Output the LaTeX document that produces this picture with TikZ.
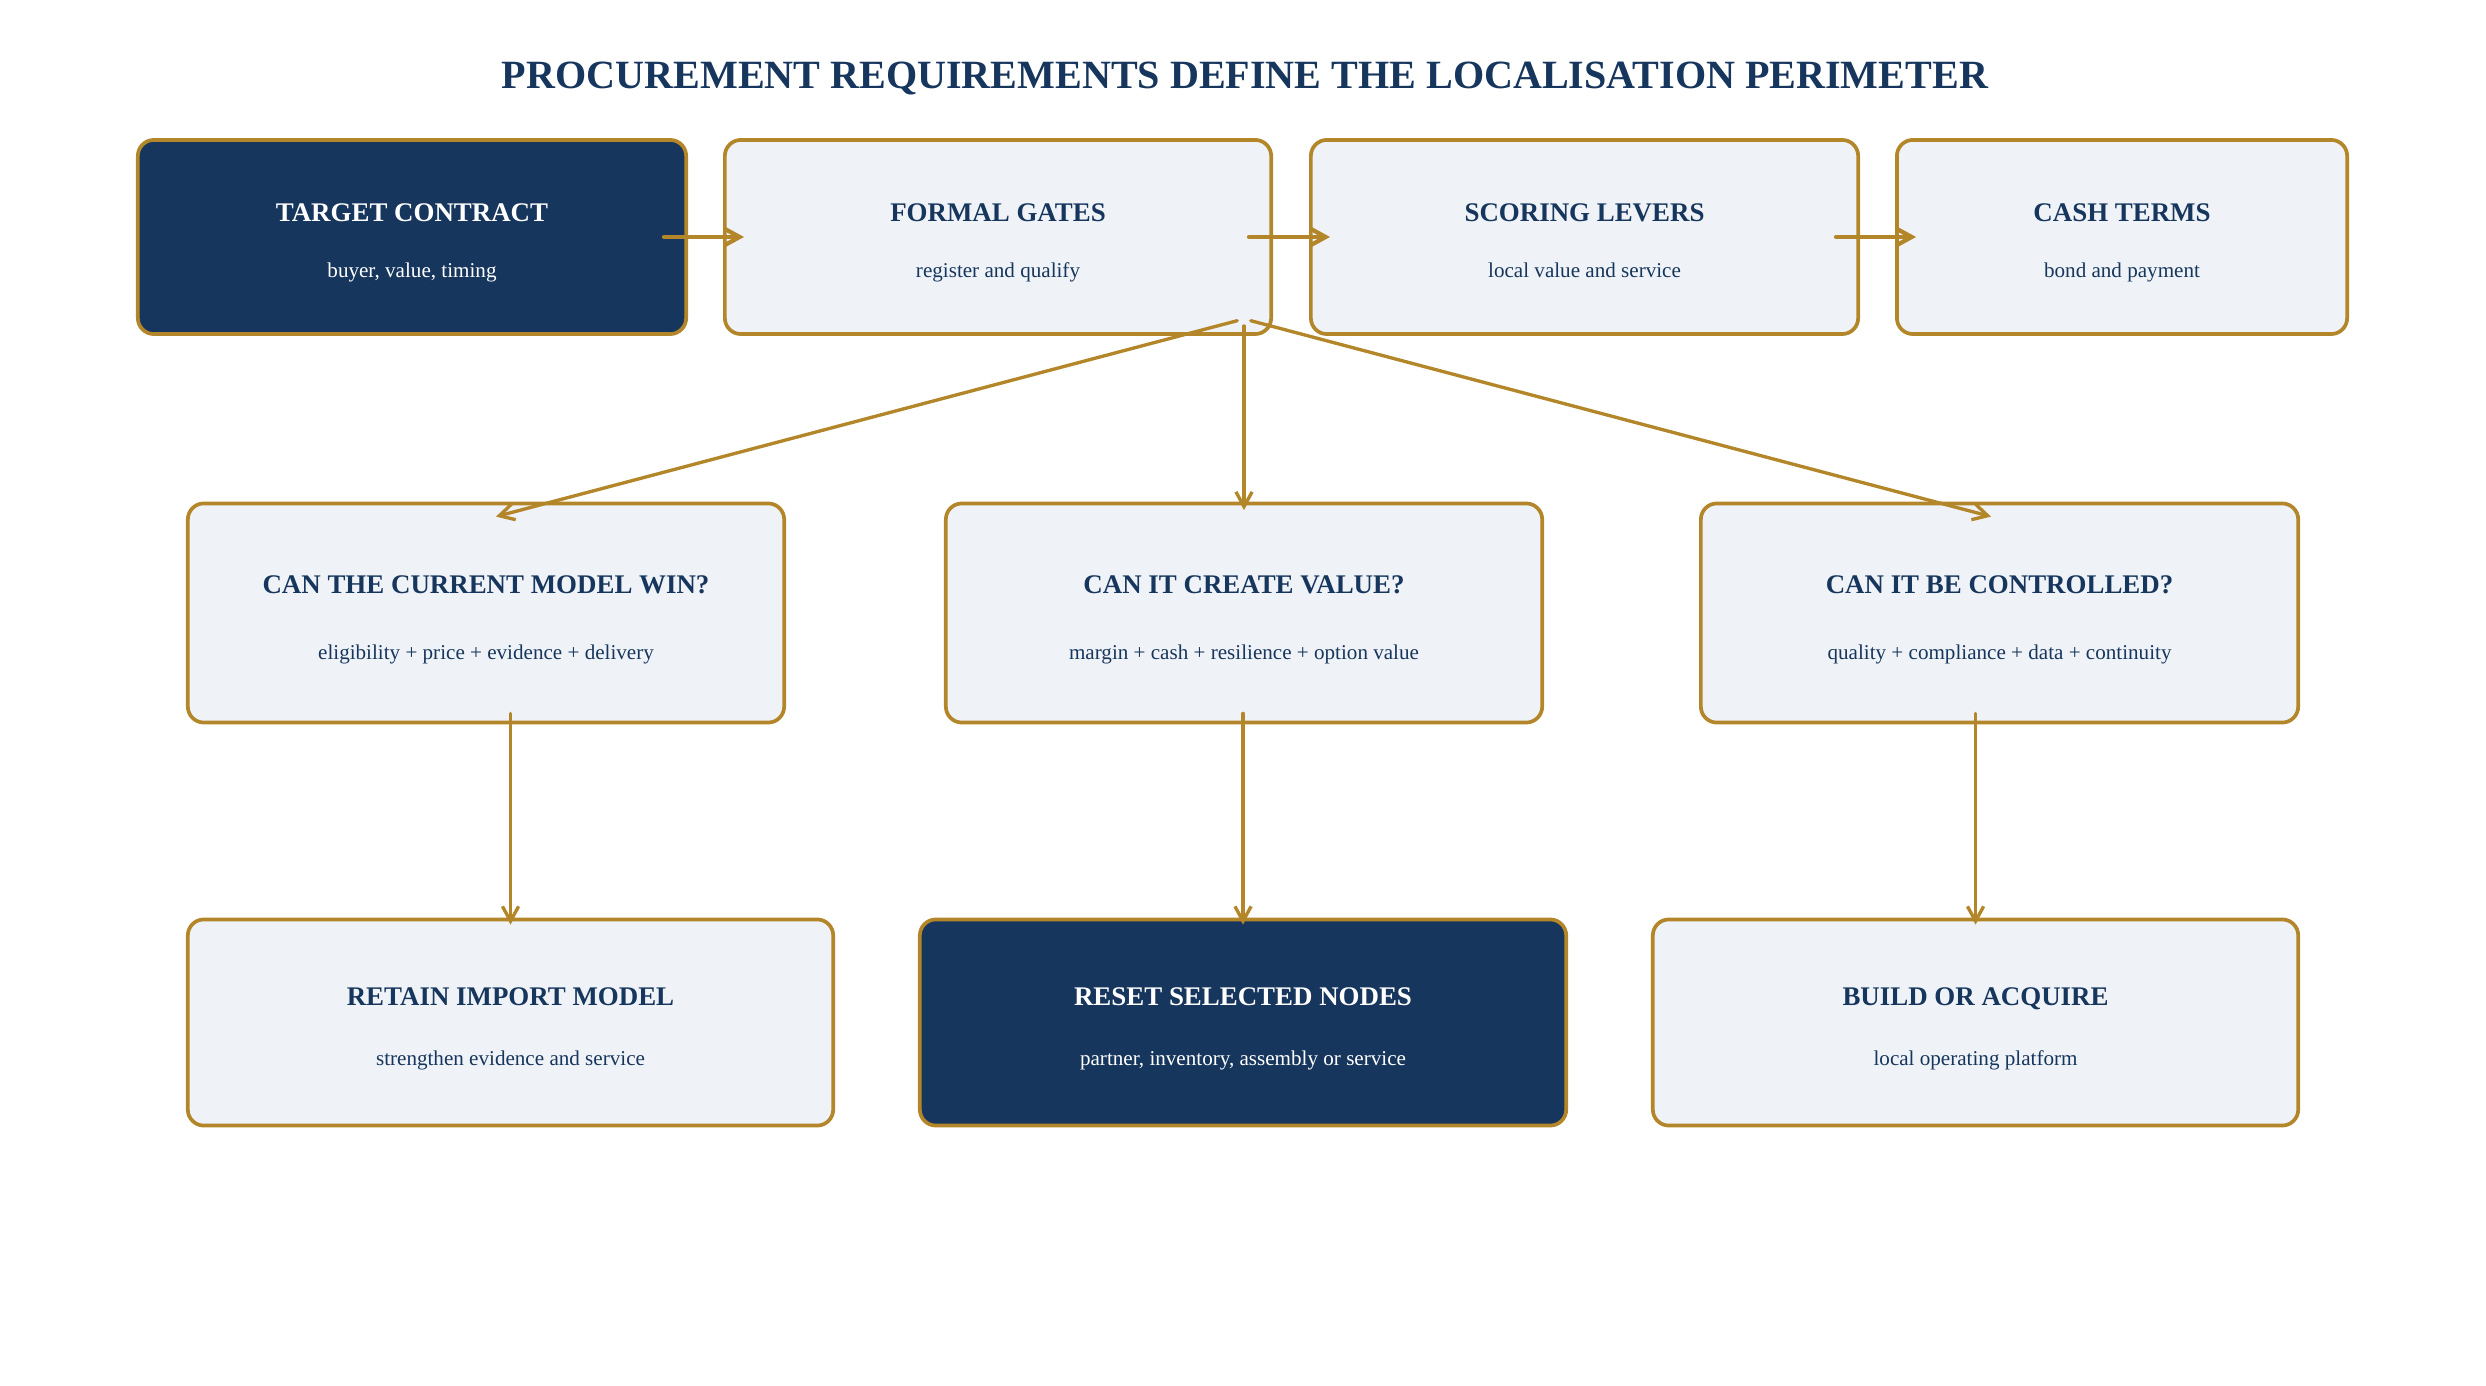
\documentclass[tikz,border=0pt]{standalone}
\usepackage{fontspec}
\setmainfont{Liberation Serif}
\usetikzlibrary{arrows.meta}
\usetikzlibrary{calc}
\definecolor{navy}{HTML}{17365D}
\definecolor{gold}{HTML}{B3862A}
\definecolor{paper}{HTML}{EFF3F7}
\tikzstyle{every path}=[line cap=round,line join=round]
\tikzstyle{box}=[draw=gold,line width=1.05pt,rounded corners=0.16cm,fill=paper,inner sep=0pt]
\tikzstyle{darkbox}=[box,fill=navy]
\tikzstyle{head}=[font=\bfseries\fontsize{7.65}{9}\selectfont,text=navy,anchor=base,inner sep=0pt]
\tikzstyle{sub}=[font=\fontsize{6}{7}\selectfont,text=navy,anchor=base,inner sep=0pt]
\tikzstyle{flow}=[draw=gold,line width=0.95pt,-{Straight Barb[length=4.2pt,width=4.6pt]}]
\tikzstyle{chain}=[flow,line width=1.2pt]

\begin{document}
\begin{tikzpicture}[x=0.01cm,y=-0.01cm]
    % Canvas (pixel grid of the reference)
    \fill[white] (0,0) rectangle (2486,1386);
    \useasboundingbox (0,0) rectangle (2486,1386);

    % Title
    \node[head,font=\bfseries\fontsize{11.4}{13}\selectfont] (title) at (1245,89)
        {PROCUREMENT REQUIREMENTS DEFINE THE LOCALISATION PERIMETER};

    % Row 1: contract and tender terms
    \node[darkbox,minimum width=5.48cm,minimum height=1.94cm] (contract) at (412,237) {};
    \node[box,minimum width=5.46cm,minimum height=1.94cm] (gates) at (998,237) {};
    \node[box,minimum width=5.47cm,minimum height=1.94cm] (levers) at (1584.5,237) {};
    \node[box,minimum width=4.50cm,minimum height=1.94cm] (cash) at (2122,237) {};

    \node[head,text=white] (contract-h) at ([yshift=0.15cm]contract.center) {TARGET CONTRACT};
    \node[sub,text=white] (contract-s) at ([yshift=-0.40cm]contract.center) {buyer, value, timing};
    \node[head] (gates-h) at ([yshift=0.15cm]gates.center) {FORMAL GATES};
    \node[sub] (gates-s) at ([yshift=-0.40cm]gates.center) {register and qualify};
    \node[head] (levers-h) at ([yshift=0.15cm]levers.center) {SCORING LEVERS};
    \node[sub] (levers-s) at ([yshift=-0.40cm]levers.center) {local value and service};
    \node[head] (cash-h) at ([yshift=0.15cm]cash.center) {CASH TERMS};
    \node[sub] (cash-s) at ([yshift=-0.40cm]cash.center) {bond and payment};

    % Row 2: the three tests
    \node[box,minimum width=5.96cm,minimum height=2.19cm] (win) at (486,613) {};
    \node[box,minimum width=5.96cm,minimum height=2.19cm] (value) at (1244,613) {};
    \node[box,minimum width=5.97cm,minimum height=2.19cm] (control) at (1999.5,613) {};

    \node[head] (win-h) at ([yshift=0.19cm]win.center) {CAN THE CURRENT MODEL WIN?};
    \node[sub] (win-s) at ([yshift=-0.46cm]win.center) {eligibility + price + evidence + delivery};
    \node[head] (value-h) at ([yshift=0.19cm]value.center) {CAN IT CREATE VALUE?};
    \node[sub] (value-s) at ([yshift=-0.46cm]value.center) {margin + cash + resilience + option value};
    \node[head] (control-h) at ([yshift=0.19cm]control.center) {CAN IT BE CONTROLLED?};
    \node[sub] (control-s) at ([yshift=-0.46cm]control.center) {quality + compliance + data + continuity};

    % Row 3: outcomes
    \node[box,minimum width=6.45cm,minimum height=2.06cm] (retain) at (510.5,1022.5) {};
    \node[darkbox,minimum width=6.46cm,minimum height=2.06cm] (reset) at (1243,1022.5) {};
    \node[box,minimum width=6.45cm,minimum height=2.06cm] (build) at (1975.5,1022.5) {};

    \node[head] (retain-h) at ([yshift=0.17cm]retain.center) {RETAIN IMPORT MODEL};
    \node[sub] (retain-s) at ([yshift=-0.425cm]retain.center) {strengthen evidence and service};
    \node[head,text=white] (reset-h) at ([yshift=0.17cm]reset.center) {RESET SELECTED NODES};
    \node[sub,text=white] (reset-s) at ([yshift=-0.425cm]reset.center) {partner, inventory, assembly or service};
    \node[head] (build-h) at ([yshift=0.17cm]build.center) {BUILD OR ACQUIRE};
    \node[sub] (build-s) at ([yshift=-0.425cm]build.center) {local operating platform};

    % Chain along the top row
    \draw[chain] ([xshift=-0.24cm]contract.east) -- ([xshift=0.21cm]gates.west);
    \draw[chain] ([xshift=-0.24cm]gates.east) -- ([xshift=0.21cm]levers.west);
    \draw[chain] ([xshift=-0.24cm]levers.east) -- ([xshift=0.21cm]cash.west);

    % Fan out from the gates
    \path (gates.south -| value.center) ++(0,-17) coordinate (fork);
    \draw[flow,shorten <=2pt] (fork) -- ([xshift=0.1cm,yshift=-0.15cm]win.north);
    \draw[flow,shorten <=2pt] (fork) -- ([yshift=-0.085cm]value.north);
    \draw[flow,shorten <=2pt] (fork) -- ([xshift=-0.085cm,yshift=-0.15cm]control.north);

    % Tests down to outcomes
    \draw[flow] ($(win.south -| retain.north)+(0,-11)$) -- ([yshift=-0.07cm]retain.north);
    \draw[flow] ($(value.south -| reset.north)+(0,-11)$) -- ([yshift=-0.07cm]reset.north);
    \draw[flow] ($(control.south -| build.north)+(0,-11)$) -- ([yshift=-0.07cm]build.north);

\end{tikzpicture}
\end{document}
